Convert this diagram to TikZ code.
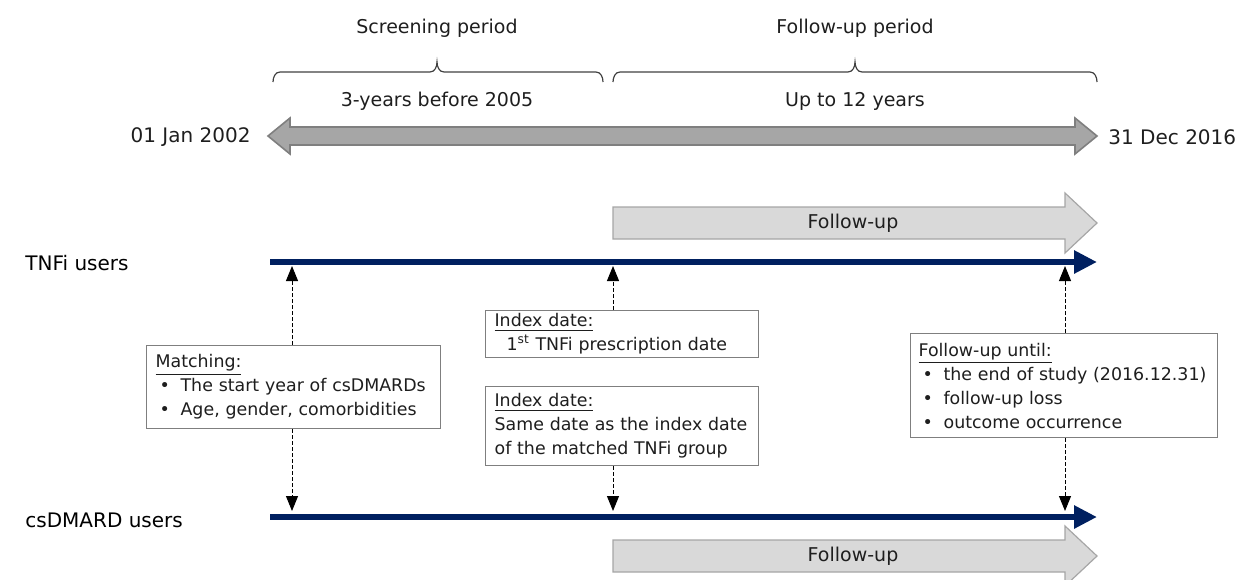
\documentclass[tikz,border=0pt]{standalone}
\usepackage{fontspec}
\setmainfont{DejaVu Sans}
\usetikzlibrary{arrows.meta}
\definecolor{navy}{RGB}{0,32,96}
\definecolor{bigfill}{RGB}{166,166,166}
\definecolor{bigedge}{RGB}{127,127,127}
\definecolor{fufill}{RGB}{217,217,217}
\definecolor{fuedge}{RGB}{166,166,166}
\definecolor{boxedge}{RGB}{127,127,127}
\definecolor{txt}{RGB}{30,30,30}
\newcommand{\bul}{\hspace*{2pt}\makebox[10.5pt][l]{\textbullet}}
\begin{document}
\begin{tikzpicture}[x=0.5pt,y=-0.5pt,
  toplabel/.style={font=\fontsize{9.5}{11}\selectfont, text=txt, inner sep=0pt},
  datelabel/.style={font=\fontsize{10}{12}\selectfont, text=txt, inner sep=0pt},
  grouplabel/.style={font=\fontsize{10}{12}\selectfont, text=black, inner sep=0pt, anchor=west},
  infobox/.style={draw=boxedge, line width=0.6pt, fill=white, text=txt,
    font=\fontsize{8.7}{12}\selectfont, align=left, inner xsep=4.5pt, inner ysep=0pt, anchor=north west},
  bracepath/.style={draw=black!75, line width=0.6pt},
  timeline/.style={draw=navy, line width=3.2pt, -{Triangle[length=11.5pt,width=11pt]}},
  link/.style={dash pattern=on 2pt off 1pt, line width=0.5pt, -{Triangle[length=7.5pt,width=6pt]}},
  bigarrow/.style={fill=bigfill, draw=bigedge, line width=0.8pt},
  fuarrow/.style={fill=fufill, draw=fuedge, line width=0.6pt},
]
\useasboundingbox (0,0) rectangle (1240,579);

% top labels
\node[toplabel] (scr) at (437,28) {Screening period};
\node[toplabel] (fup) at (855,28) {Follow-up period};
\node[toplabel] (three) at (437,101) {3-years before 2005};
\node[toplabel] (upto) at (855,101) {Up to 12 years};

% braces
\draw[bracepath] (273,82) to[out=90,in=180] (280,72) -- (430,72) to[out=0,in=-90] (437,62)
  to[out=-90,in=180] (444,72) -- (596,72) to[out=0,in=90] (603,82);
\draw[bracepath] (613,82) to[out=90,in=180] (620,72) -- (848,72) to[out=0,in=-90] (855,62)
  to[out=-90,in=180] (862,72) -- (1090,72) to[out=0,in=90] (1097,82);

% big double arrow
\draw[bigarrow] (268,136) -- (290,118) -- (290,127) -- (1075,127) -- (1075,118) -- (1097,136)
  -- (1075,154) -- (1075,145) -- (290,145) -- (290,154) -- cycle;
\node[datelabel, anchor=east] (d1) at (251,137) {01 Jan 2002};
\node[datelabel, anchor=west] (d2) at (1108,137) {31 Dec 2016};

% follow-up arrows
\draw[fuarrow] (613,207) -- (1065,207) -- (1065,193) -- (1097,223) -- (1065,253) -- (1065,239) -- (613,239) -- cycle;
\node[toplabel] (fu1) at (853,223) {Follow-up};
\draw[fuarrow] (613,540) -- (1065,540) -- (1065,526) -- (1097,556) -- (1065,586) -- (1065,572) -- (613,572) -- cycle;
\node[toplabel] (fu2) at (853,556) {Follow-up};

% group labels and timelines
\node[grouplabel] (tnf) at (25,263) {TNFi users};
\node[grouplabel] (csd) at (25,520) {csDMARD users};
\coordinate (tnfS) at (270,262);
\coordinate (tnfE) at (1097,262);
\coordinate (csdS) at (270,517);
\coordinate (csdE) at (1097,517);
\draw[timeline] (tnfS) -- (tnfE);
\draw[timeline] (csdS) -- (csdE);

% anchor points on timelines
\coordinate (tA) at (292,266);
\coordinate (tB) at (613,266);
\coordinate (tC) at (1065,266);
\coordinate (cA) at (292,511);
\coordinate (cB) at (613,511);
\coordinate (cC) at (1065,511);

% info boxes
\node[infobox, text width=138pt, minimum height=41.5pt] (match) at (146,345)
  {\underline{Matching:}\\
   \mbox{\bul The start year of csDMARDs}\\
   \mbox{\bul Age, gender, comorbidities}};
\node[infobox, text width=127.5pt, minimum height=23.5pt] (idx1) at (485,310)
  {\underline{Index date:}\\
   \mbox{\hspace*{6pt}1\textsuperscript{st} TNFi prescription date}};
\node[infobox, text width=127.5pt, minimum height=39.5pt] (idx2) at (485,386)
  {\underline{Index date:}\\
   \mbox{Same date as the index date}\\
   \mbox{of the matched TNFi group}};
\node[infobox, inner xsep=4pt, text width=145.5pt, minimum height=52pt] (fuu) at (910,333)
  {\underline{Follow-up until:}\\
   \mbox{\bul the end of study (2016.12.31)}\\
   \mbox{\bul follow-up loss}\\
   \mbox{\bul outcome occurrence}};

% connectors
\draw[link] (match.north -| tA) -- (tA);
\draw[link] (match.south -| cA) -- (cA);
\draw[link] (idx1.north -| tB) -- (tB);
\draw[link] (idx2.south -| cB) -- (cB);
\draw[link] (fuu.north -| tC) -- (tC);
\draw[link] (fuu.south -| cC) -- (cC);
\end{tikzpicture}
\end{document}
